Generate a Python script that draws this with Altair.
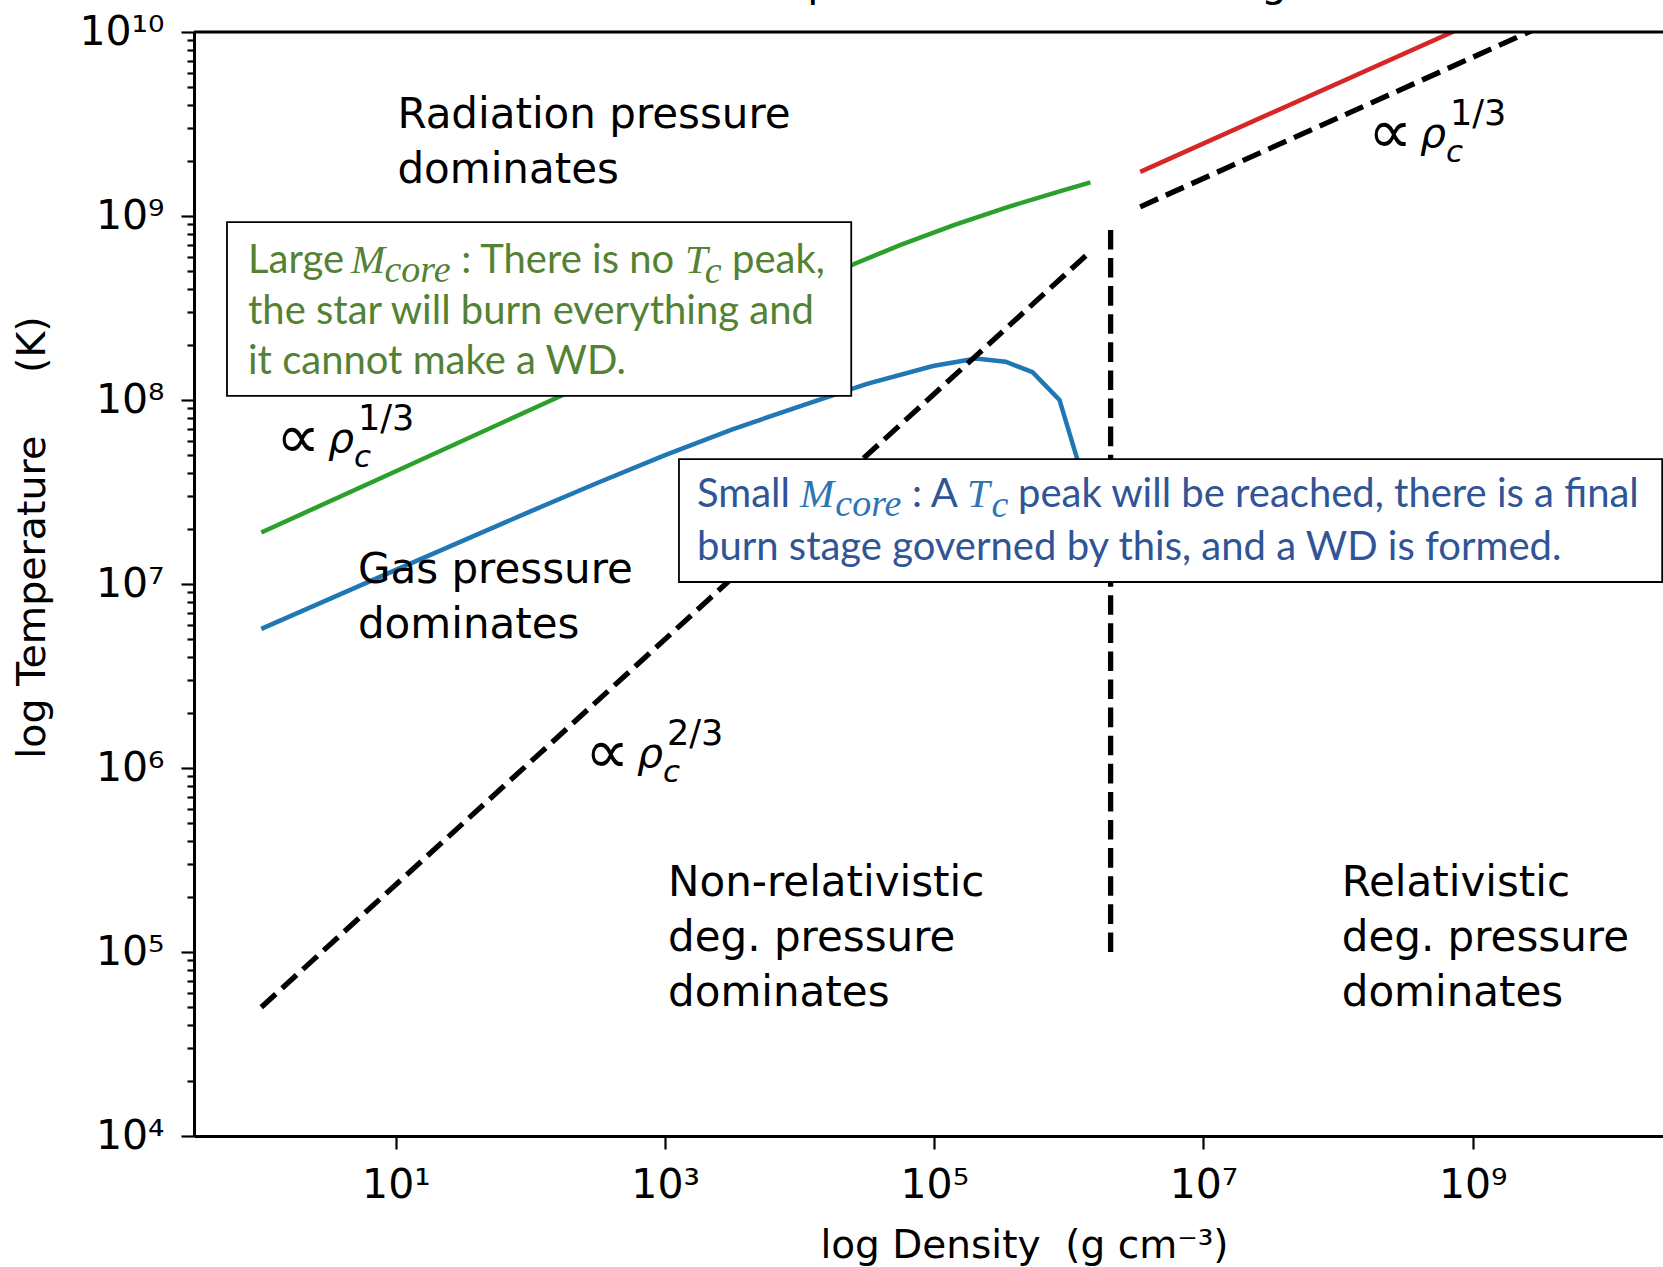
import numpy as np
import pandas as pd
import altair as alt

# ---- tracks in the (log rho_c, log T_c) plane ----
green_log_rho = [0.0, 1.0, 2.0, 3.0, 4.0, 4.4, 4.75, 5.15, 5.55, 5.95, 6.16]
green_log_T = [7.28, 7.613, 7.947, 8.28, 8.613, 8.738, 8.843, 8.952, 9.05, 9.138, 9.183]

blue_log_rho = [0.0, 1.0, 2.0, 2.5, 3.0, 3.5, 4.0, 4.5, 4.99, 5.31, 5.53, 5.73, 5.93, 6.06, 6.12]
blue_log_T = [6.756, 7.077, 7.395, 7.55, 7.70, 7.84, 7.966, 8.088, 8.185, 8.226, 8.208, 8.151,
              8.001, 7.684, 7.35]

red_log_rho = [6.53, 9.2]
red_log_T = [9.24, 10.115]

# ---- regime boundaries ----
nonrel_log_rho = [0.0, 6.13]
nonrel_log_T = [4.70, 8.787]
rel_log_rho = [6.53, 9.6]
rel_log_T = [9.05, 10.06]
degen_log_rho = [6.31, 6.31]
degen_log_T = [5.0, 8.95]

# ---- axis ticks ----
x_tick_exps = [1, 3, 5, 7, 9]
y_tick_exps = [4, 5, 6, 7, 8, 9, 10]
SUP = str.maketrans("0123456789-", "⁰¹²³⁴⁵⁶⁷⁸⁹⁻")
NBSP = "\u00a0"

# ---- region labels ----
region_text = ["Radiation pressure\ndominates", "Gas pressure\ndominates",
               "Non-relativistic\ndeg. pressure\ndominates",
               "Relativistic\ndeg. pressure\ndominates"]
region_log_rho = [1.011, 0.718, 3.022, 8.027]
region_log_T = [9.478, 7.005, 5.304, 5.304]

# ---- power-law slope labels ----
slope_log_rho = [0.161, 8.274, 2.457]
slope_log_T = [7.717, 9.375, 6.005]
slope_exp = ["1/3", "1/3", "2/3"]

# ---- annotation boxes ----
box_log_rho = [-0.255, 3.103]
box_log_rho2 = [4.383, 10.408]
box_log_T = [8.967, 7.679]
box_log_T2 = [8.022, 7.011]

GREEN_TXT = "#548235"
BLUE_TXT = "#2F5597"
BLUE_MATH = "#2E75B6"
seg_text = ["Large", "M", "core", ": There is no", "T", "c", "peak,",
            "the star will burn everything and", "it cannot make a WD.",
            "Small", "M", "core", ": A", "T", "c",
            "peak will be reached, there is a final",
            "burn stage governed by this, and a WD is formed."]
seg_log_rho = [-0.099, 0.666, 0.915, 1.485, 3.148, 3.295, 3.497, -0.099, -0.099,
               3.237, 4.002, 4.265, 4.834, 5.243, 5.425, 5.622, 3.237]
seg_log_T = [8.691, 8.691, 8.642, 8.691, 8.691, 8.636, 8.691, 8.413, 8.142,
             7.418, 7.418, 7.369, 7.418, 7.418, 7.363, 7.418, 7.130]
seg_kind = ["sans", "math", "sub", "sans", "math", "sub", "sans", "sans", "sans",
            "sans", "math", "sub", "sans", "math", "sub", "sans", "sans"]
seg_color = [GREEN_TXT] * 9 + [BLUE_TXT, BLUE_MATH, BLUE_MATH, BLUE_TXT, BLUE_MATH, BLUE_MATH,
                               BLUE_TXT, BLUE_TXT]

# ---- figure heading (sits above the frame, mostly off the page) ----
heading = ["Temperature of the burning core"]


def pts(lr, lt, **extra):
    d = pd.DataFrame({"rho": 10.0 ** np.array(lr), "T": 10.0 ** np.array(lt)})
    d["i"] = range(len(d))
    for k, v in extra.items():
        d[k] = v
    return d


tracks = pd.concat([
    pts(green_log_rho, green_log_T, curve="large", color="#2ca02c"),
    pts(blue_log_rho, blue_log_T, curve="small", color="#1f77b4"),
    pts(red_log_rho, red_log_T, curve="relativistic", color="#d62728"),
])
bounds = pd.concat([
    pts(nonrel_log_rho, nonrel_log_T, curve="nonrel"),
    pts(rel_log_rho, rel_log_T, curve="rel"),
    pts(degen_log_rho, degen_log_T, curve="degen"),
])
regions = pts(region_log_rho, region_log_T, label=region_text)
slopes = pts(slope_log_rho, slope_log_T, exp=slope_exp)
boxes = pd.DataFrame({"rho": 10.0 ** np.array(box_log_rho), "rho2": 10.0 ** np.array(box_log_rho2),
                      "T": 10.0 ** np.array(box_log_T), "T2": 10.0 ** np.array(box_log_T2)})
segs = pts(seg_log_rho, seg_log_T, text=seg_text, kind=seg_kind, color=seg_color)
top_spine = pd.DataFrame({"T": [1e10]})
heading_df = pd.DataFrame({"text": heading})

x_vals = [10.0 ** e for e in x_tick_exps]
x_label_expr = " : ".join(
    f"datum.value == {10.0 ** e!r} ? '10{str(e).translate(SUP)}'" for e in x_tick_exps) + " : ''"

y_vals = []
for e in y_tick_exps:
    y_vals.append(10.0 ** e)
    if e < y_tick_exps[-1]:
        y_vals += [m * 10.0 ** e for m in range(2, 10)]
y_label_expr = " : ".join(
    f"datum.value == {10.0 ** e!r} ? '10{str(e).translate(SUP)}'" for e in y_tick_exps) + " : ''"
major_test = "abs(log(datum.value) / LN10 - round(log(datum.value) / LN10)) < 1e-6"

FONT = "DejaVu Sans"
X = alt.X(
    "rho:Q",
    scale=alt.Scale(type="log", domain=[10 ** -0.5, 10 ** 10.414], nice=False),
    axis=alt.Axis(
        values=x_vals, labelExpr=x_label_expr, grid=False,
        title=f"log Density{NBSP}{NBSP}(g cm⁻³)", titleFont=FONT, titleFontSize=39,
        titleFontWeight="normal", titleColor="black", titleX=830, titleY=121, titleAlign="center",
        titleBaseline="alphabetic",
        labelFont=FONT, labelFontSize=41, labelColor="black", labelBaseline="alphabetic",
        labelAlign="center", labelPadding=48, labelFlush=False, labelOverlap=False, labelBound=False,
        tickSize=13, tickWidth=2.2, tickColor="black", domainColor="black", domainWidth=3,
    ),
)
Y = alt.Y(
    "T:Q",
    scale=alt.Scale(type="log", domain=[1e4, 1e10], nice=False),
    axis=alt.Axis(
        values=y_vals, labelExpr=y_label_expr, grid=False,
        title="log Temperature" + NBSP * 5 + "(K)", titleFont=FONT, titleFontSize=39.5,
        titleFontWeight="normal", titleColor="black", titleX=-150, titleY=505, titleAngle=270,
        titleAlign="center", titleBaseline="alphabetic",
        labelFont=FONT, labelFontSize=41, labelColor="black", labelPadding=17,
        labelFlush=False, labelOverlap=False, labelBound=False,
        tickSize={"condition": {"test": major_test, "value": 13}, "value": 7},
        tickWidth=2.2, tickColor="black", domainColor="black", domainWidth=3,
    ),
)

track_layer = alt.Chart(tracks).mark_line(strokeWidth=4.5, clip=True).encode(
    x=X, y=Y, detail="curve:N", order="i:Q", color=alt.Color("color:N", scale=None))
bound_layer = alt.Chart(bounds).mark_line(
    strokeWidth=5.3, strokeDash=[19.6, 8.5], color="black", clip=True).encode(
    x=X, y=Y, detail="curve:N", order="i:Q")
box_layer = alt.Chart(boxes).mark_rect(fill="white", stroke="black", strokeWidth=1.8).encode(
    x=X, x2="rho2:Q", y=Y, y2="T2:Q")

seg_base = alt.Chart(segs).encode(x=X, y=Y, text="text:N", color=alt.Color("color:N", scale=None))
seg_sans = seg_base.transform_filter("datum.kind == 'sans'").mark_text(
    align="left", baseline="alphabetic", font="Lato", fontSize=40)
seg_math = seg_base.transform_filter("datum.kind == 'math'").mark_text(
    align="left", baseline="alphabetic", font="Liberation Serif", fontStyle="italic", fontSize=41)
seg_sub = seg_base.transform_filter("datum.kind == 'sub'").mark_text(
    align="left", baseline="alphabetic", font="Liberation Serif", fontStyle="italic", fontSize=38)

region_layer = alt.Chart(regions).mark_text(
    align="left", baseline="alphabetic", font=FONT, fontSize=42, lineHeight=55, lineBreak="\n",
    color="black").encode(x=X, y=Y, text="label:N")

slope_base = alt.Chart(slopes).encode(x=X, y=Y)
slope_prop = slope_base.mark_text(align="left", baseline="alphabetic", font=FONT, fontSize=62,
                                  dx=-7, dy=6, color="black").encode(text=alt.value("∝"))
slope_rho = slope_base.mark_text(align="left", baseline="alphabetic", font=FONT, fontSize=41,
                                 fontStyle="italic", dx=45, color="black").encode(text=alt.value("ρ"))
slope_sub = slope_base.mark_text(align="left", baseline="alphabetic", font=FONT, fontSize=31,
                                 fontStyle="italic", dx=71, dy=15, color="black").encode(
    text=alt.value("c"))
slope_sup = slope_base.mark_text(align="left", baseline="alphabetic", font=FONT, fontSize=35,
                                 dx=75, dy=-22, color="black").encode(text="exp:N")

spine_layer = alt.Chart(top_spine).mark_rule(strokeWidth=3, color="black").encode(y=Y)

# heading text: baseline just above the page edge so only descenders show
heading_layer = alt.Chart(heading_df).mark_text(
    align="left", baseline="alphabetic", font=FONT, fontSize=41, color="black").encode(
    x=alt.value(530), y=alt.value(-36), text="text:N")

chart = alt.layer(
    track_layer, bound_layer, box_layer, seg_sans, seg_math, seg_sub,
    region_layer, slope_prop, slope_rho, slope_sub, slope_sup, spine_layer, heading_layer,
).properties(
    width=1469, height=1104,
    padding={"left": 194, "top": 32, "right": 0, "bottom": 131},
    autosize=alt.AutoSizeParams(type="none"),
).configure_view(stroke=None)

chart.save("out.html", embed_options={"renderer": "svg", "actions": False})
